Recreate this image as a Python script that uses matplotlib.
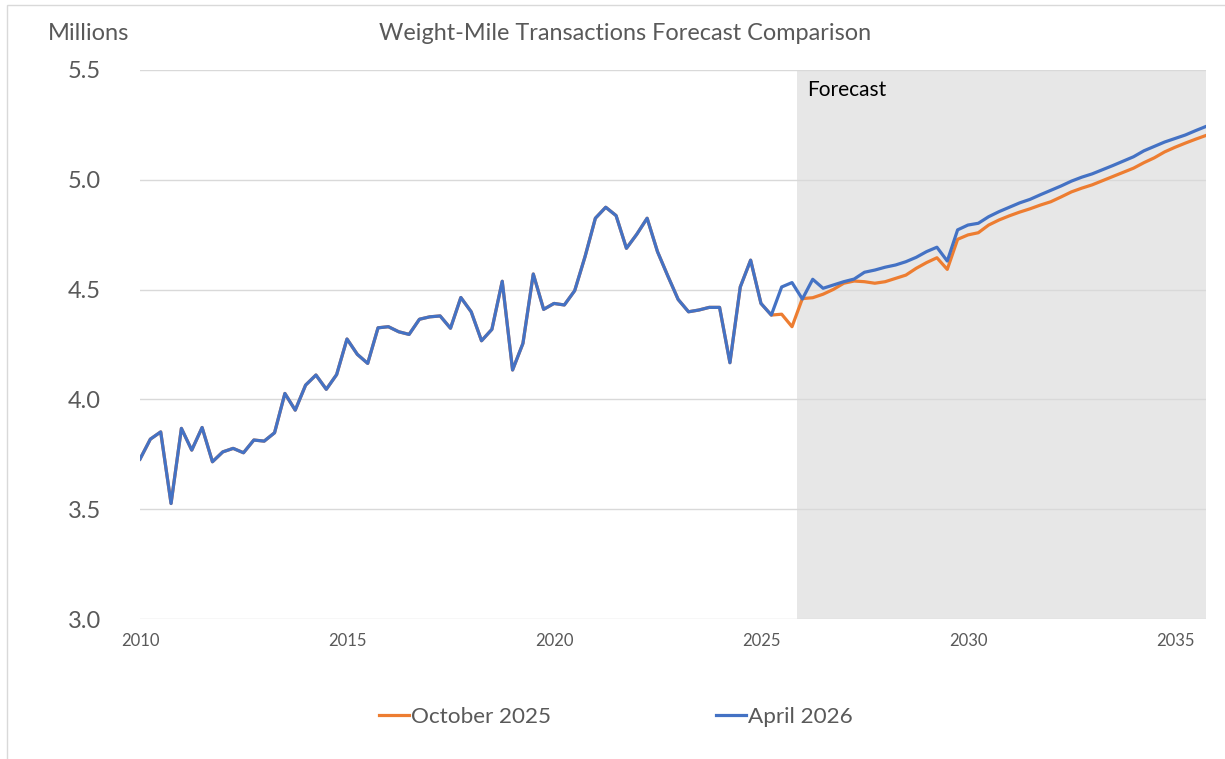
import numpy as np
import matplotlib
matplotlib.use("Agg")
import matplotlib.pyplot as plt
from matplotlib.patches import Rectangle

# quarterly categories 2010Q1 .. 2035Q4
years = list(range(2010, 2036))
quarters = [f"{y}Q{q}" for y in years for q in range(1, 5)]
tick_years = ["2010", "2015", "2020", "2025", "2030", "2035"]

history = [
    3.728, 3.819, 3.852, 3.526, 3.868, 3.769, 3.872, 3.716, 3.761, 3.777,
    3.757, 3.815, 3.810, 3.848, 4.027, 3.951, 4.065, 4.111, 4.046, 4.113,
    4.275, 4.205, 4.164, 4.326, 4.331, 4.308, 4.296, 4.365, 4.376, 4.380,
    4.324, 4.464, 4.399, 4.267, 4.319, 4.538, 4.134, 4.255, 4.571, 4.410,
    4.437, 4.430, 4.495, 4.650, 4.825, 4.875, 4.837, 4.688, 4.752, 4.825,
    4.673, 4.562, 4.455, 4.399, 4.407, 4.419, 4.419, 4.167, 4.512, 4.634,
    4.437, 4.384,
]

april_2026_tail = [
    4.512, 4.532, 4.457, 4.547, 4.506, 4.521, 4.536, 4.548, 4.579, 4.589,
    4.602, 4.612, 4.627, 4.647, 4.673, 4.693, 4.630, 4.772, 4.794, 4.802,
    4.832, 4.855, 4.875, 4.895, 4.911, 4.932, 4.952, 4.972, 4.994, 5.012,
    5.027, 5.046, 5.065, 5.085, 5.105, 5.132, 5.152, 5.172, 5.188, 5.204,
    5.224, 5.243,
]

october_2025_tail = [
    4.388, 4.331, 4.459, 4.463, 4.479, 4.501, 4.529, 4.539, 4.536, 4.529,
    4.536, 4.551, 4.566, 4.597, 4.623, 4.645, 4.592, 4.729, 4.749, 4.759,
    4.794, 4.817, 4.836, 4.853, 4.868, 4.885, 4.900, 4.922, 4.945, 4.962,
    4.977, 4.996, 5.015, 5.034, 5.053, 5.078, 5.100, 5.127, 5.148, 5.167,
    5.185, 5.202,
]

april_2026 = history + april_2026_tail
october_2025 = history + october_2025_tail
forecast_start = quarters.index("2026Q1")

x = np.arange(len(quarters))
gray = "#595959"
font = "Lato"

fig = plt.figure(figsize=(12.25, 7.59), dpi=100)
ax = fig.add_axes([140 / 1225, 1 - 619 / 759, 1066 / 1225, 549 / 759])

ax.axvspan(forecast_start - 0.5, x[-1], color="#E7E7E7", lw=0, zorder=0)
ax.plot(x, october_2025, color="#ED7D31", lw=2.3, label="October 2025", zorder=3)
ax.plot(x, april_2026, color="#4472C4", lw=2.3, label="April 2026", zorder=4)

ax.set_xlim(0, x[-1])
ax.set_ylim(3.0, 5.5)
ax.set_yticks(np.arange(3.0, 5.51, 0.5))
ax.set_yticklabels([f"{v:.1f}" for v in np.arange(3.0, 5.51, 0.5)],
                   fontsize=17, color=gray, family=font)
ax.set_xticks([quarters.index(y + "Q1") for y in tick_years])
ax.set_xticklabels(tick_years, fontsize=12, color=gray, family=font)
ax.tick_params(length=0)
ax.tick_params(axis="y", pad=28)
ax.tick_params(axis="x", pad=10)
ax.grid(axis="y", color="#D9D9D9", lw=1)
ax.set_axisbelow(True)
for s in ax.spines.values():
    s.set_visible(False)
ax.patch.set_alpha(0)

ax.text((807 - 140) / 1066, (619 - 90) / 549, "Forecast", transform=ax.transAxes,
        fontsize=15, color="black", family=font, va="center", ha="left")

fig.text(625 / 1225, 1 - 33 / 759, "Weight-Mile Transactions Forecast Comparison",
         fontsize=16.9, color=gray, family=font, ha="center", va="center")
fig.text(48 / 1225, 1 - 33 / 759, "Millions", fontsize=17, color=gray,
         family=font, ha="left", va="center")

leg = fig.legend(loc="center", bbox_to_anchor=(616 / 1225, 1 - 717 / 759), ncol=2,
                 frameon=False, handlelength=1.35, handletextpad=0.1,
                 columnspacing=7.3, prop={"family": font, "size": 16.2})
for t in leg.get_texts():
    t.set_color(gray)

fig.add_artist(Rectangle((7 / 1225, -0.2), 1.2, 1.2 - 5 / 759,
                         transform=fig.transFigure, fill=False,
                         edgecolor="#D9D9D9", lw=1))

fig.savefig("out.png", dpi=100)
